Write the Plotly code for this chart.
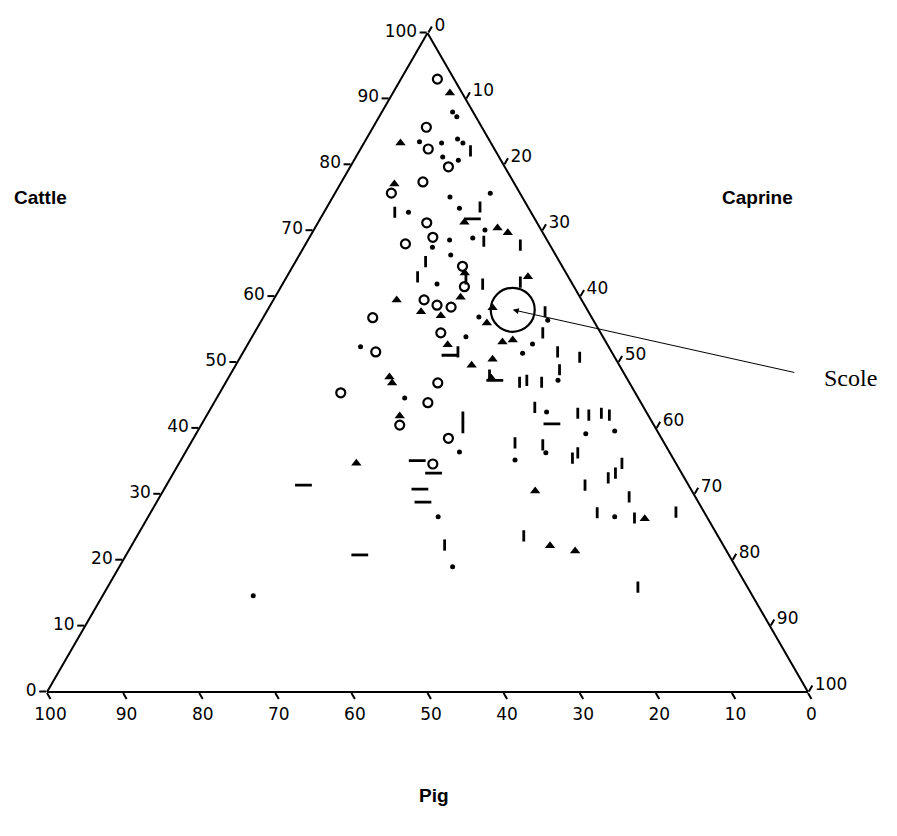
import plotly.graph_objects as go

# Percent composition of the three species at each site (Cattle, Caprine; Pig is the remainder)
circle_cattle = [93.0, 85.7, 82.4, 79.7, 77.4, 75.7, 71.2, 69.0, 68.0, 64.6, 61.5, 59.5,
                 58.7, 58.4, 56.8, 51.6, 45.4, 54.5, 46.9, 43.9, 40.5, 38.5, 34.6]
circle_caprine = [4.8, 7.0, 8.9, 12.9, 10.7, 7.4, 14.3, 16.2, 13.1, 22.3, 24.1, 19.8,
                  21.9, 23.9, 14.4, 17.4, 15.9, 24.5, 27.9, 28.1, 26.1, 33.5, 33.4]

triangle_cattle = [90.9, 83.3, 77.1, 71.3, 70.4, 69.7, 63.6, 63.0, 59.5, 57.7, 59.9, 57.1,
                   58.3, 56.0, 53.1, 53.4, 52.7, 49.6, 50.5, 47.6, 47.8, 46.9, 41.9, 34.7,
                   30.5, 22.2, 21.4, 26.3]
triangle_caprine = [7.5, 4.8, 7.1, 19.2, 24.0, 25.7, 23.1, 31.7, 16.2, 20.3, 24.4, 23.2,
                    29.4, 29.8, 33.3, 34.5, 26.3, 31.0, 33.3, 34.6, 21.1, 21.9, 25.4, 23.3,
                    48.9, 55.0, 58.7, 65.4]

dot_cattle = [88.0, 87.3, 83.5, 83.3, 83.9, 83.3, 81.2, 80.7, 75.1, 75.7, 72.8, 73.4,
              67.5, 68.6, 68.9, 70.1, 66.3, 61.9, 56.9, 53.9, 51.4, 52.8, 56.4, 47.3,
              52.4, 44.6, 42.5, 39.2, 39.6, 36.3, 36.4, 35.2, 26.6, 19.0, 26.6, 14.6]
dot_caprine = [9.3, 10.2, 7.2, 10.2, 12.0, 13.0, 11.4, 13.7, 15.4, 20.4, 11.1, 17.5,
               16.9, 18.6, 21.5, 22.5, 19.9, 20.3, 28.3, 28.1, 36.8, 37.4, 37.6, 43.5,
               15.0, 24.7, 44.4, 51.2, 54.8, 47.4, 36.0, 43.9, 38.1, 43.8, 61.3, 19.8]

vdash_cattle = [82.1, 72.8, 73.6, 68.4, 67.8, 65.3, 63.0, 62.7, 61.9, 62.2, 57.7, 54.5,
                51.6, 51.6, 50.8, 47.0, 47.3, 47.0, 48.9, 43.2, 41.7, 40.1, 42.3, 42.0,
                42.3, 42.0, 37.8, 37.5, 35.5, 36.3, 31.4, 32.5, 33.2, 34.7, 29.6, 27.2,
                26.4, 27.3, 23.7, 22.3, 15.9, 48.1]
vdash_caprine = [14.6, 9.3, 20.1, 23.2, 28.3, 17.1, 17.2, 23.7, 26.3, 31.1, 36.6, 37.9,
                 28.2, 41.3, 44.6, 38.6, 39.4, 41.5, 42.9, 42.5, 33.8, 34.6, 48.6, 50.2,
                 51.7, 52.9, 42.6, 46.4, 51.3, 51.6, 55.0, 57.5, 58.1, 58.2, 61.7, 58.7,
                 64.0, 69.0, 50.8, 41.1, 69.7, 34.1]

hdash_cattle = [71.8, 51.1, 40.7, 35.1, 33.2, 30.8, 28.8, 31.4, 20.8, 47.3]
hdash_caprine = [20.0, 27.4, 46.0, 31.1, 34.2, 33.6, 35.0, 18.0, 30.7, 35.2]

# Highlighted site
scole_cattle = 58.0
scole_caprine = 32.2
scole_label = "Scole"

tick_values = list(range(0, 101, 10))

W, H = 897, 836
DX = [47 / W, 808 / W]
DY = [(H - 692) / H, (H - 33) / H]


def pig(cattle, caprine):
    return [round(100 - a - c, 1) for a, c in zip(cattle, caprine)]


def to_paper(cattle, caprine):
    """Paper coordinates of a ternary point inside the ternary domain."""
    px = DX[0] + (caprine + cattle / 2) / 100 * (DX[1] - DX[0])
    py = DY[0] + cattle / 100 * (DY[1] - DY[0])
    return px, py


fig = go.Figure()


def add_group(cattle, caprine, symbol, size, lw=2):
    fig.add_trace(go.Scatterternary(
        a=cattle, b=pig(cattle, caprine), c=caprine,
        mode="markers",
        marker=dict(symbol=symbol, size=size, color="black",
                    line=dict(color="black", width=lw)),
        showlegend=False, hoverinfo="a+b+c",
    ))


add_group(circle_cattle, circle_caprine, "circle-open", 9, lw=2.2)
add_group(triangle_cattle, triangle_caprine, "triangle-up", 9, lw=0)
add_group(dot_cattle, dot_caprine, "circle", 5, lw=0)
add_group(vdash_cattle, vdash_caprine, "line-ns", 8, lw=2.8)
add_group(hdash_cattle, hdash_caprine, "line-ew", 12, lw=2.8)

# Ring around the highlighted site
fig.add_trace(go.Scatterternary(
    a=[scole_cattle], b=pig([scole_cattle], [scole_caprine]), c=[scole_caprine],
    mode="markers",
    marker=dict(symbol="circle-open", size=44, color="black",
                line=dict(color="black", width=2.2)),
    showlegend=False, hoverinfo="skip",
))

axis_common = dict(
    tickmode="array", tickvals=tick_values, ticktext=[str(v) for v in tick_values],
    ticks="outside", ticklen=7, tickwidth=2, tickcolor="black",
    linecolor="black", linewidth=2, showline=True, showgrid=False,
    tickfont=dict(family="DejaVu Sans", size=17, color="black"),
    title=dict(text=""), min=0,
)

fig.update_layout(
    width=W, height=H,
    margin=dict(l=0, r=0, t=0, b=0),
    paper_bgcolor="white",
    ternary=dict(
        sum=100,
        domain=dict(x=DX, y=DY),
        bgcolor="white",
        aaxis=axis_common,
        baxis=axis_common,
        caxis=axis_common,
    ),
    showlegend=False,
)

title_font = dict(family="Liberation Sans", size=19, color="black")
fig.add_annotation(x=40 / W, y=1 - 197 / H, xref="paper", yref="paper",
                   xanchor="center", yanchor="middle",
                   text="<b>Cattle</b>", showarrow=False, font=title_font)
fig.add_annotation(x=757 / W, y=1 - 197 / H, xref="paper", yref="paper",
                   xanchor="center", yanchor="middle",
                   text="<b>Caprine</b>", showarrow=False, font=title_font)
fig.add_annotation(x=434 / W, y=1 - 795 / H, xref="paper", yref="paper",
                   xanchor="center", yanchor="middle",
                   text="<b>Pig</b>", showarrow=False, font=title_font)

# Pointer from the label to the highlighted site
sx, sy = to_paper(scole_cattle, scole_caprine)
fig.add_annotation(x=sx, y=sy, xref="paper", yref="paper", text="",
                   showarrow=True, arrowhead=2, arrowsize=1.2, arrowwidth=1,
                   arrowcolor="black", ax=283, ay=63)
fig.add_annotation(x=822 / W, y=1 - 378 / H, xref="paper", yref="paper",
                   text=scole_label, showarrow=False, xanchor="left", yanchor="middle",
                   font=dict(family="Liberation Serif", size=24, color="black"))

fig.write_html("out.html")
